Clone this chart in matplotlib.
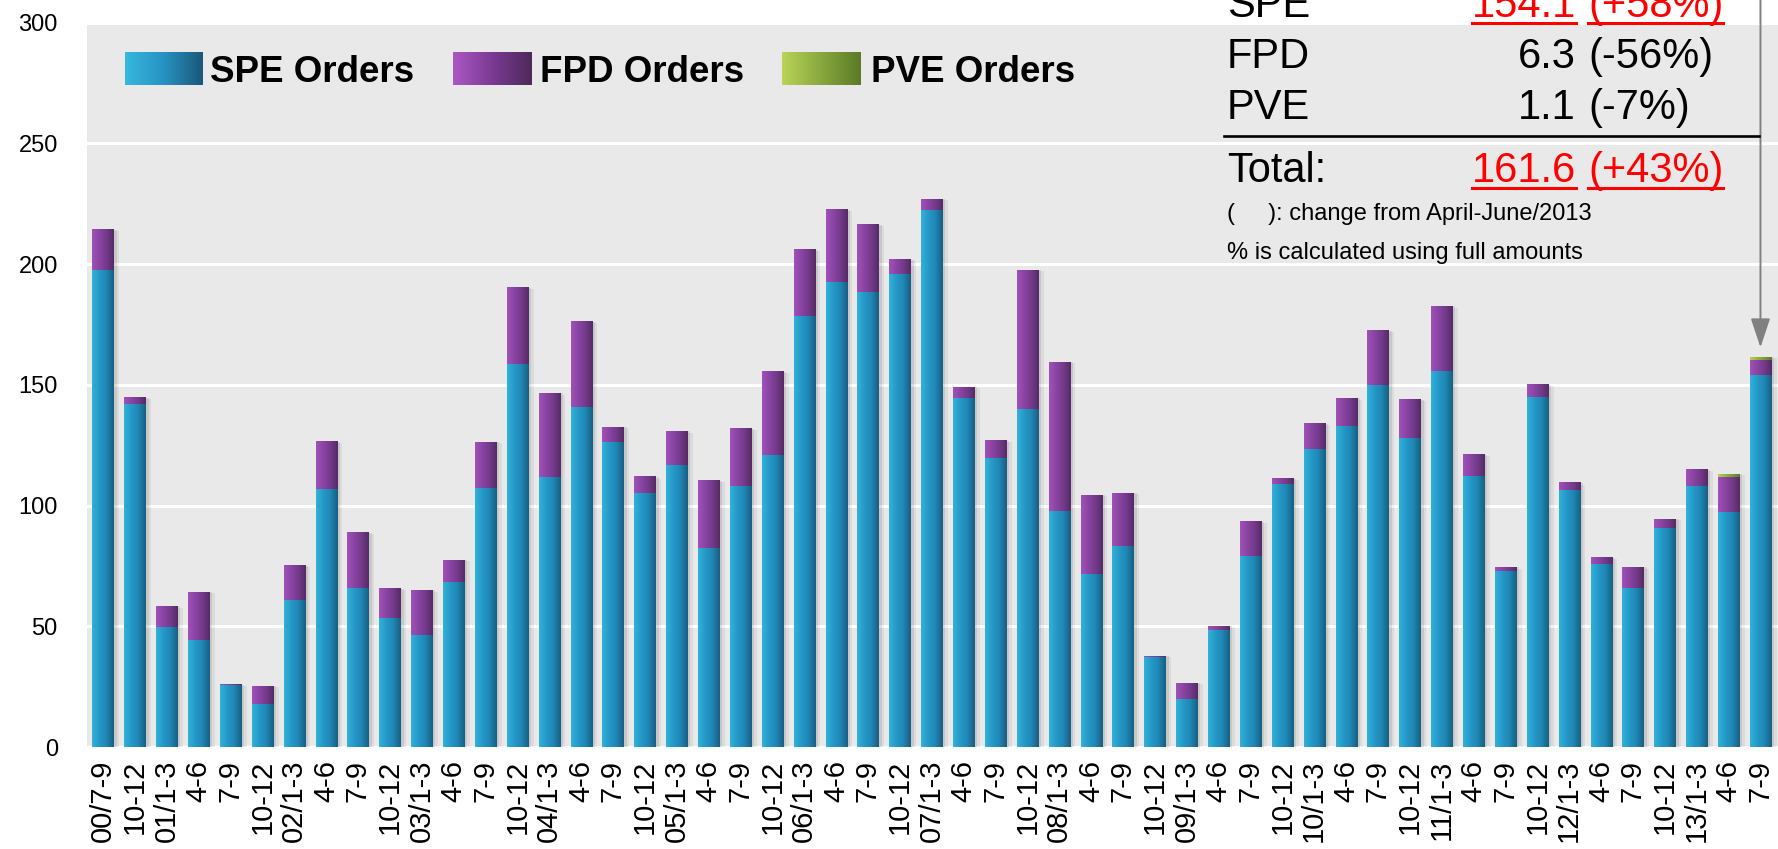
import numpy as np
import matplotlib
matplotlib.use('Agg')
import matplotlib.pyplot as plt
from matplotlib.colors import LinearSegmentedColormap
from matplotlib.lines import Line2D

plt.rcParams['font.family'] = ['Liberation Sans', 'DejaVu Sans']

# quarters (year/months)
quarters = ['00/7-9', '10-12',
            '01/1-3', '4-6', '7-9', '10-12',
            '02/1-3', '4-6', '7-9', '10-12',
            '03/1-3', '4-6', '7-9', '10-12',
            '04/1-3', '4-6', '7-9', '10-12',
            '05/1-3', '4-6', '7-9', '10-12',
            '06/1-3', '4-6', '7-9', '10-12',
            '07/1-3', '4-6', '7-9', '10-12',
            '08/1-3', '4-6', '7-9', '10-12',
            '09/1-3', '4-6', '7-9', '10-12',
            '10/1-3', '4-6', '7-9', '10-12',
            '11/1-3', '4-6', '7-9', '10-12',
            '12/1-3', '4-6', '7-9', '10-12',
            '13/1-3', '4-6', '7-9']

spe = [197.5, 142.0, 49.6, 44.5, 25.5, 17.9, 60.8, 107.0, 65.8, 53.3,
       46.4, 68.3, 107.3, 158.6, 111.8, 140.8, 126.3, 105.0, 116.8, 82.5,
       107.9, 120.8, 178.5, 192.4, 188.3, 196.1, 222.6, 144.7, 119.6, 140.1,
       97.8, 71.8, 83.2, 37.4, 20.0, 48.5, 79.2, 108.9, 123.5, 132.9,
       150.0, 128.0, 155.8, 112.1, 73.0, 144.9, 106.3, 75.8, 65.9, 90.8,
       108.0, 97.5, 154.1]
fpd = [16.8, 2.7, 8.6, 19.6, 0.3, 7.4, 14.1, 19.5, 23.0, 12.3,
       18.5, 9.1, 19.0, 31.7, 34.7, 35.3, 6.2, 6.7, 13.9, 27.8,
       23.8, 34.6, 27.5, 30.0, 27.8, 5.8, 4.5, 4.5, 7.3, 57.5,
       61.6, 32.6, 21.9, 0.4, 6.6, 1.5, 14.1, 2.1, 10.4, 11.5,
       22.5, 15.75, 26.7, 9.0, 1.4, 5.1, 2.9, 2.5, 8.5, 3.6,
       6.9, 14.3, 6.3]
pve = [0] * 51 + [1.2, 1.1]

series_names = ['SPE Orders', 'FPD Orders', 'PVE Orders']

W, H = 1778, 849
fig = plt.figure(figsize=(W / 100, H / 100), dpi=100)
ax = fig.add_axes([87 / W, 1 - 747 / H, 1 - 87 / W, (747 - 22.7) / H])
ax.set_facecolor('#e9e9e9')

def fx(p):
    return p / W

def fy(p):
    return 1 - p / H

bar_cmaps = [
    LinearSegmentedColormap.from_list('spe', ['#30b2d9', '#2698c8', '#1f86b4', '#175f80']),
    LinearSegmentedColormap.from_list('fpd', ['#a052b8', '#8a44a3', '#733a8a', '#552a66']),
    LinearSegmentedColormap.from_list('pve', ['#b6d055', '#97b344', '#7c9a36', '#5c7a28']),
]
legend_cmaps = [
    LinearSegmentedColormap.from_list('spe_l', ['#36b8dd', '#2792c2', '#1a587a']),
    LinearSegmentedColormap.from_list('fpd_l', ['#aa58c2', '#7a3a92', '#4d2a5b']),
    LinearSegmentedColormap.from_list('pve_l', ['#bad358', '#88a83e', '#5b7a28']),
]
mid_colors = ['#2391c0', '#7e3f96', '#8aa83c']

x = np.arange(len(quarters))
width = 0.66
spe_a = np.array(spe)
fpd_a = np.array(fpd)
pve_a = np.array(pve)
total = spe_a + fpd_a + pve_a

# soft shadows
ax.bar(x + 0.10, total, width, color='black', alpha=0.09, zorder=1.5, linewidth=0)
ax.bar(x + 0.18, total - 0.5, width, color='black', alpha=0.06, zorder=1.4, linewidth=0)

grad = np.linspace(0, 1, 64).reshape(1, -1)
bottoms = [np.zeros(len(x)), spe_a, spe_a + fpd_a]
for vals, bottom, cmap, c in zip([spe_a, fpd_a, pve_a], bottoms, bar_cmaps, mid_colors):
    bars = ax.bar(x, vals, width, bottom=bottom, color=c, linewidth=0, zorder=2)
    for rect in bars:
        x0, y0 = rect.get_xy()
        w, h = rect.get_width(), rect.get_height()
        if h <= 0:
            continue
        ax.imshow(grad, cmap=cmap, extent=(x0, x0 + w, y0, y0 + h),
                  aspect='auto', interpolation='bilinear', zorder=3)

ax.set_xlim(-0.5, 52.55)
ax.set_ylim(0, 300)
ax.set_yticks(np.arange(0, 301, 50))
ax.yaxis.grid(True, color='white', linewidth=2.2)
ax.set_axisbelow(True)
ax.set_xticks(x)
ax.set_xticklabels(quarters, rotation=90, fontsize=21)
ax.tick_params(axis='x', length=0, pad=9)
ax.tick_params(axis='y', length=0, pad=21, labelsize=17)
for s in ax.spines.values():
    s.set_visible(False)

# legend drawn by hand with gradient swatches
leg_patch_x = [125, 453, 782]
leg_text_x = [210, 540, 871]
for name, px, tx, cmap in zip(series_names, leg_patch_x, leg_text_x, legend_cmaps):
    lax = fig.add_axes([fx(px), fy(85), 78 / W, 33 / H])
    lax.imshow(grad, cmap=cmap, aspect='auto', interpolation='bilinear')
    lax.axis('off')
    fig.text(fx(tx), fy(72), name, fontsize=26.5, fontweight='bold', va='center', ha='left')

# summary box at the top right
rows = [('SPE', '154.1', '(+58%)', 'red', 2),
        ('FPD', '6.3', '(-56%)', 'black', 53),
        ('PVE', '1.1', '(-7%)', 'black', 104),
        ('Total:', '161.6', '(+43%)', 'red', 167)]
dy = 4
underline = []
for lab, val, pct, col, py in rows:
    fig.text(fx(1227), fy(py + dy), lab, fontsize=30, va='center', ha='left')
    t1 = fig.text(fx(1576), fy(py + dy), val, fontsize=30, va='center', ha='right', color=col)
    t2 = fig.text(fx(1588), fy(py + dy), pct, fontsize=30, va='center', ha='left', color=col)
    if col == 'red':
        underline.append((t1, py))
        underline.append((t2, py))

fig.add_artist(Line2D([fx(1224), fx(1759)], [fy(136), fy(136)], color='black', lw=1.9))
fig.text(fx(1227), fy(214), '(     ): change from April-June/2013', fontsize=17, va='center', ha='left')
fig.text(fx(1227), fy(253), '% is calculated using full amounts', fontsize=17, va='center', ha='left')

fig.canvas.draw()
r = fig.canvas.get_renderer()
for t, py in underline:
    bb = t.get_window_extent(r)
    fig.add_artist(Line2D([bb.x0 / W, bb.x1 / W], [fy(py + 21), fy(py + 21)], color='red', lw=2.2))

ax.annotate('', xy=(52, total[-1] + 4), xytext=(52, 345),
            arrowprops=dict(arrowstyle='-|>,head_length=0.9,head_width=0.3',
                            color='#808080', lw=1.4, shrinkA=0, shrinkB=0,
                            mutation_scale=20),
            annotation_clip=False, zorder=5)

fig.savefig('out.png', dpi=100)
